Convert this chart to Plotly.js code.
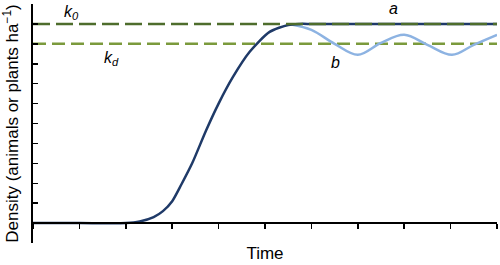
<!DOCTYPE html>
<html>
<head>
<meta charset="utf-8">
<script src="https://cdn.plot.ly/plotly-3.0.1.min.js"></script>
<style>html,body{margin:0;padding:0;background:#fff;}#chart{width:500px;height:265px;}</style>
</head>
<body>
<div id="chart"></div>
<script>
// Curve a: logistic-type rise to carrying capacity k0
var timeA = [0, 1, 2, 2.3, 2.6, 2.8, 3.0, 3.2, 3.43, 3.73, 4.0, 4.3, 4.67, 5.1, 5.5, 5.75, 6, 7, 8, 9, 10];
var densityA = [0, 0, 0, 0.08, 0.3, 0.6, 1.1, 1.95, 3.0, 4.65, 6.0, 7.3, 8.6, 9.6, 9.95, 10, 10, 10, 10, 10, 10];
// Curve b: oscillation around kd
var timeB = [5.57, 6.0, 6.5, 7.0, 7.5, 8.0, 8.5, 9.03, 9.5, 10];
var densityB = [9.97, 9.7, 9.0, 8.45, 9.05, 9.45, 8.95, 8.45, 8.95, 9.45];
// Reference levels
var levelK0 = 10;
var levelKd = 9;
var xRange = [0, 10];
var yRange = [-1, 11];

var traces = [
  {x: xRange, y: [levelKd, levelKd], mode: 'lines', line: {color: '#7b9a3c', width: 2.5, dash: '13px,6px'}, hoverinfo: 'skip'},
  {x: timeB, y: densityB, mode: 'lines', line: {color: '#8db3e2', width: 2.5, shape: 'spline', smoothing: 1.0}, hoverinfo: 'skip'},
  {x: timeA, y: densityA, mode: 'lines', line: {color: '#1f3a68', width: 2.5, shape: 'spline', smoothing: 0.7}, hoverinfo: 'skip'},
  {x: xRange, y: [levelK0, levelK0], mode: 'lines', line: {color: '#4e6d2c', width: 2.5, dash: '17px,6px'}, hoverinfo: 'skip'}
];

var layout = {
  width: 500, height: 265,
  margin: {l: 33, r: 3, t: 4, b: 22},
  paper_bgcolor: '#fff', plot_bgcolor: '#fff',
  showlegend: false,
  font: {family: 'Liberation Sans, Arial, sans-serif', color: '#000', size: 17},
  xaxis: {
    range: xRange, anchor: 'free', position: 1/12,
    showgrid: false, zeroline: false, showticklabels: false,
    showline: true, linecolor: '#000', linewidth: 2,
    ticks: 'outside', ticklen: 5, tickwidth: 1.5, tickcolor: '#000',
    tick0: 0, dtick: 1,
    title: {text: 'Time', font: {size: 17}, standoff: 18}
  },
  yaxis: {
    range: yRange,
    showgrid: false, zeroline: false, showticklabels: false,
    showline: true, linecolor: '#000', linewidth: 2,
    ticks: 'inside', ticklen: 5, tickwidth: 1.5, tickcolor: '#000',
    tick0: -1, dtick: 1,
    title: {text: 'Density (animals or plants ha<sup>\u22121</sup>)', font: {size: 17}, standoff: 8}
  },
  annotations: [
    {x: 0.84, y: 10.55, xref: 'x', yref: 'y', text: '<i>k<sub>0</sub></i>', showarrow: false, font: {size: 16}},
    {x: 1.7, y: 8.25, xref: 'x', yref: 'y', text: '<i>k<sub>d</sub></i>', showarrow: false, font: {size: 16}},
    {x: 7.76, y: 10.75, xref: 'x', yref: 'y', text: '<i>a</i>', showarrow: false, font: {size: 16}},
    {x: 6.53, y: 8.05, xref: 'x', yref: 'y', text: '<i>b</i>', showarrow: false, font: {size: 16}}
  ]
};

Plotly.newPlot('chart', traces, layout, {staticPlot: true, displayModeBar: false});
</script>
</body>
</html>
